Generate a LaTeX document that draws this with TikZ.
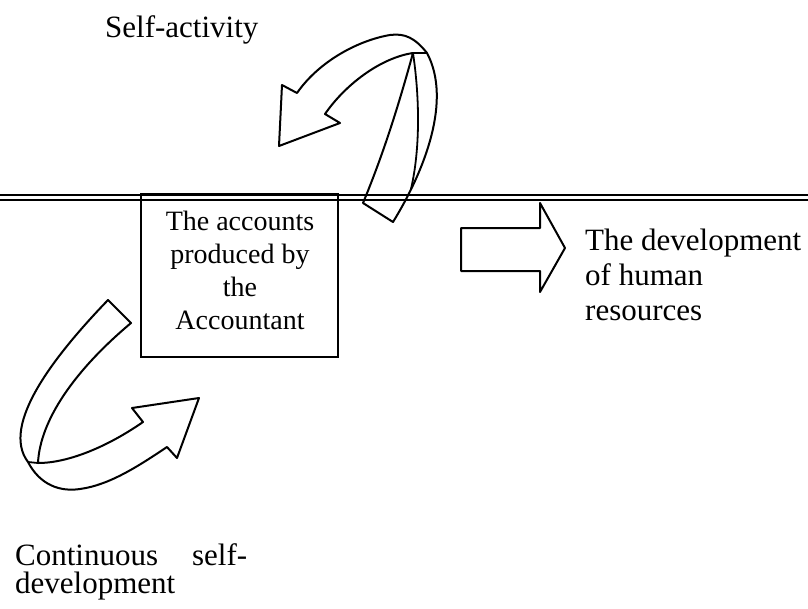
\documentclass[tikz,border=0pt]{standalone}
\usepackage{fontspec}
\setmainfont{Liberation Serif}
\begin{document}
\begin{tikzpicture}[x=1pt,y=-1pt,
  outline/.style={draw=black, line width=2pt, line join=round},
  fold/.style={draw=black, line width=1.8pt},
  rail/.style={draw=black, line width=2pt},
  frame/.style={draw=black, line width=2.2pt, inner sep=0pt},
  caption/.style={inner sep=0pt, font=\rmfamily\fontsize{31}{35}\selectfont, align=left},
  boxtext/.style={inner sep=0pt, font=\rmfamily\fontsize{28}{33}\selectfont, align=center}]
\fill[white] (0,0) rectangle (808,608);
\useasboundingbox (0,0) rectangle (808,608);

% double rule across the page
\coordinate (railA0) at (0,194.5);  \coordinate (railA1) at (808,194.5);
\coordinate (railB0) at (0,199.5);  \coordinate (railB1) at (808,199.5);
\draw[rail] (railA0) -- (railA1);
\draw[rail] (railB0) -- (railB1);

% central box
\node[frame, minimum width=197pt, minimum height=163pt] (box) at (239.5,275.5) {};
\node[boxtext, anchor=north] (boxlabel) at (240,210.7)
  {The accounts\\produced by\\the\\Accountant};

% curved ribbon arrow above the rule
\path[outline]
  (393,222) .. controls (425,170) and (452,100) .. (427,53)
  .. controls (415,38) and (405,33) .. (390,35)
  .. controls (360,40) and (320,60) .. (297,93)
  -- (282,85) -- (279,146) -- (340,123) -- (325,114)
  .. controls (345,85) and (380,58) .. (413,53)
  .. controls (400,100) and (385,150) .. (363,203)
  -- cycle;
\draw[fold] (413,53) -- (427,53);
\draw[fold] (413,53) .. controls (420,100) and (420,150) .. (411,189);

% curved ribbon arrow at lower left
\path[outline]
  (108,300) .. controls (55,355) and (0,425) .. (28,462)
  .. controls (40,485) and (60,492) .. (80,489)
  .. controls (110,485) and (140,465) .. (167,447)
  -- (177,458) -- (199,398) -- (132,408) -- (143,422)
  .. controls (110,445) and (70,463) .. (38,463)
  .. controls (40,420) and (75,370) .. (131,323)
  -- cycle;
\draw[fold] (28,462) -- (38,463);

% block arrow to the right
\path[outline]
  (461,228) -- (540,228) -- (540,203) -- (565,248)
  -- (540,292) -- (540,271) -- (461,271) -- cycle;

% labels
\node[caption, anchor=base west] (selfact) at (105,37) {Self-activity};
\node[caption, anchor=north west] (hr) at (585,228.7)
  {The development\\of human\\resources};
\node[caption, font=\rmfamily\fontsize{31}{28}\selectfont, anchor=north west] (cont) at (15,543.5)
  {\makebox[232pt][s]{Continuous self-}\\development};
\end{tikzpicture}
\end{document}
